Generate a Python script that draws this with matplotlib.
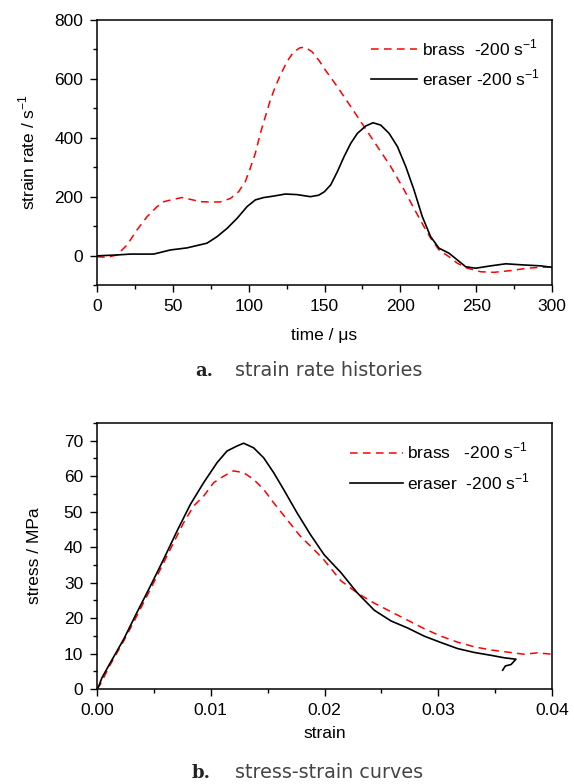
import numpy as np
import matplotlib.pyplot as plt
from matplotlib.ticker import MultipleLocator

plt.rcParams['font.family'] = ['Liberation Sans', 'DejaVu Sans']
plt.rcParams['mathtext.fontset'] = 'custom'
plt.rcParams['mathtext.rm'] = 'Liberation Sans'

# --- a. strain rate histories ---
t_brass = [0, 6.6, 13.2, 19.8, 26.4, 33, 39.6, 44, 50.5, 56, 61.5, 68, 74.7, 81.3, 88, 93.4,
           97.8, 101, 104.4, 107.7, 111, 114.3, 117.6, 120.9, 125.3, 129.7, 134, 137.4, 141.8,
           146.2, 150.3, 158.5, 167.3, 176.1, 184.9, 193.7, 202.5, 209, 215.6, 220, 225.5,
           232.1, 237.6, 244.2, 253, 261.8, 272.8, 283.8, 292.6, 300]
r_brass = [-4, -6, 2, 36, 87, 132, 166, 183, 191, 197, 191, 183, 182, 182, 194, 217,
           251, 296, 347, 415, 472, 528, 574, 613, 659, 692, 706, 707, 692,
           664, 632, 573, 506, 438, 370, 302, 223, 160, 98, 59, 19,
           -4, -26, -43, -55, -57, -51, -43, -40, -38]

t_eraser = [0, 13.2, 22, 37.4, 48.4, 59.3, 72.5, 79.1, 85.7, 92.3, 98.9, 104.4, 109.9, 116.5,
            124.2, 131.9, 140.7, 146.2, 150, 154.1, 158.5, 162.9, 167.3, 171.7, 177.2, 182,
            187.1, 192.6, 198.1, 203.6, 209, 214.5, 220, 225.5, 232.1, 237.6, 243.1, 249.7,
            259.6, 269.5, 281.6, 292.6, 300]
r_eraser = [-1, 2, 5, 5, 19, 26, 42, 64, 92, 126, 166, 189, 197, 202,
            209, 207, 200, 205, 217, 240, 285, 336, 381, 415, 440, 451,
            443, 415, 370, 302, 223, 132, 64, 25, 8, -15, -38, -43,
            -35, -28, -32, -35, -40]

# --- b. stress-strain curves ---
e_brass = [0, 0.00029, 0.00117, 0.00234, 0.0035, 0.00469, 0.00586, 0.00674, 0.00762, 0.0085,
           0.00938, 0.01026, 0.01113, 0.0120, 0.01289, 0.01377, 0.01465, 0.01553, 0.0167,
           0.01787, 0.01905, 0.01998, 0.02145, 0.02291, 0.02438, 0.02584, 0.02731, 0.02877,
           0.03024, 0.0317, 0.03317, 0.03463, 0.0361, 0.03756, 0.03873, 0.0400]
s_brass = [0, 1.3, 6.9, 13.5, 20.6, 28.1, 35.6, 41.3, 46.9, 51.6,
           54.4, 58.2, 60.0, 61.5, 61.0, 59.1, 56.3, 52.5, 47.8,
           43.1, 39.4, 36.3, 30.5, 27.0, 24.2, 21.8, 19.4, 17.0,
           14.9, 13.2, 11.9, 11.0, 10.4, 9.8, 10.2, 9.8]

e_eraser = [0, 0.00015, 0.00044, 0.00117, 0.00234, 0.0035, 0.00469, 0.00586, 0.00703, 0.0082,
            0.00938, 0.01055, 0.01143, 0.0123, 0.01289, 0.01377, 0.01465, 0.01553, 0.0164,
            0.01758, 0.01875, 0.01998, 0.02145, 0.02291, 0.02438, 0.02584, 0.02731, 0.02877,
            0.03024, 0.0317, 0.03317, 0.03463, 0.0358, 0.03683, 0.0364, 0.0359, 0.03566]
s_eraser = [0, 0.8, 3.2, 7.4, 14.0, 21.5, 29.0, 36.6, 44.5, 52.0,
            58.2, 63.8, 67.1, 68.5, 69.3, 68.0, 65.2, 61.0, 56.3,
            49.7, 43.6, 37.8, 32.8, 27.0, 22.2, 19.2, 17.2, 14.9,
            13.1, 11.4, 10.3, 9.5, 8.8, 8.4, 6.9, 6.5, 5.3]

W, H = 574, 784
fig = plt.figure(figsize=(W / 100, H / 100), dpi=100)


def px_axes(left, top, right, bottom):
    return fig.add_axes([left / W, 1 - bottom / H, (right - left) / W, (bottom - top) / H])


def style(ax):
    for sp in ax.spines.values():
        sp.set_linewidth(1.1)
    ax.tick_params(which='major', direction='out', length=5, width=1.0, labelsize=12.5,
                   pad=5, top=False, right=False)
    ax.tick_params(which='minor', direction='out', length=3, width=1.0, top=False, right=False)


dash = (0, (5, 3.5))

ax1 = px_axes(97, 20, 552, 285)
ax1.plot(t_brass, r_brass, color='#ff0000', lw=1.1, ls=dash, label='brass  -200 s$^{-1}$')
ax1.plot(t_eraser, r_eraser, color='black', lw=1.2, label='eraser -200 s$^{-1}$')
ax1.set_xlim(0, 300)
ax1.set_ylim(-100, 800)
ax1.xaxis.set_major_locator(MultipleLocator(50))
ax1.xaxis.set_minor_locator(MultipleLocator(25))
ax1.yaxis.set_major_locator(MultipleLocator(200))
ax1.yaxis.set_minor_locator(MultipleLocator(100))
style(ax1)
ax1.set_xlabel('time / \u03bcs', fontsize=12.5, labelpad=10)
ax1.set_ylabel('strain rate / s$^{-1}$', fontsize=12.5, labelpad=12)
ax1.legend(loc='upper right', bbox_to_anchor=(1.007, 0.993), frameon=False, fontsize=12.5,
           handlelength=2.7, handletextpad=0.25, labelspacing=0.55)

ax2 = px_axes(97, 423, 552, 689)
ax2.plot(e_brass, s_brass, color='#ff0000', lw=1.1, ls=dash, label='brass   -200 s$^{-1}$')
ax2.plot(e_eraser, s_eraser, color='black', lw=1.2, label='eraser  -200 s$^{-1}$')
ax2.set_xlim(0, 0.04)
ax2.set_ylim(0, 75)
ax2.set_xticks([0, 0.01, 0.02, 0.03, 0.04])
ax2.set_xticklabels(['0.00', '0.01', '0.02', '0.03', '0.04'])
ax2.xaxis.set_minor_locator(MultipleLocator(0.005))
ax2.yaxis.set_major_locator(MultipleLocator(10))
ax2.yaxis.set_minor_locator(MultipleLocator(5))
style(ax2)
ax2.set_xlabel('strain', fontsize=12.5, labelpad=6)
ax2.set_ylabel('stress / MPa', fontsize=12.5, labelpad=16)
ax2.legend(loc='upper right', bbox_to_anchor=(0.985, 0.99), frameon=False, fontsize=12.5,
           handlelength=3.0, handletextpad=0.25, labelspacing=0.55)

# captions
fig.text(195 / W, 1 - 371 / H, 'a.', fontsize=13, fontweight='bold', family='DejaVu Serif',
         color='#222222', va='center', ha='left')
fig.text(235 / W, 1 - 371 / H, 'strain rate histories', fontsize=13.8, family='DejaVu Sans',
         color='#444444', va='center', ha='left')
fig.text(192 / W, 1 - 773 / H, 'b.', fontsize=13, fontweight='bold', family='DejaVu Serif',
         color='#222222', va='center', ha='left')
fig.text(235 / W, 1 - 773 / H, 'stress-strain curves', fontsize=13.8, family='DejaVu Sans',
         color='#444444', va='center', ha='left')

fig.savefig('out.png', dpi=100)
